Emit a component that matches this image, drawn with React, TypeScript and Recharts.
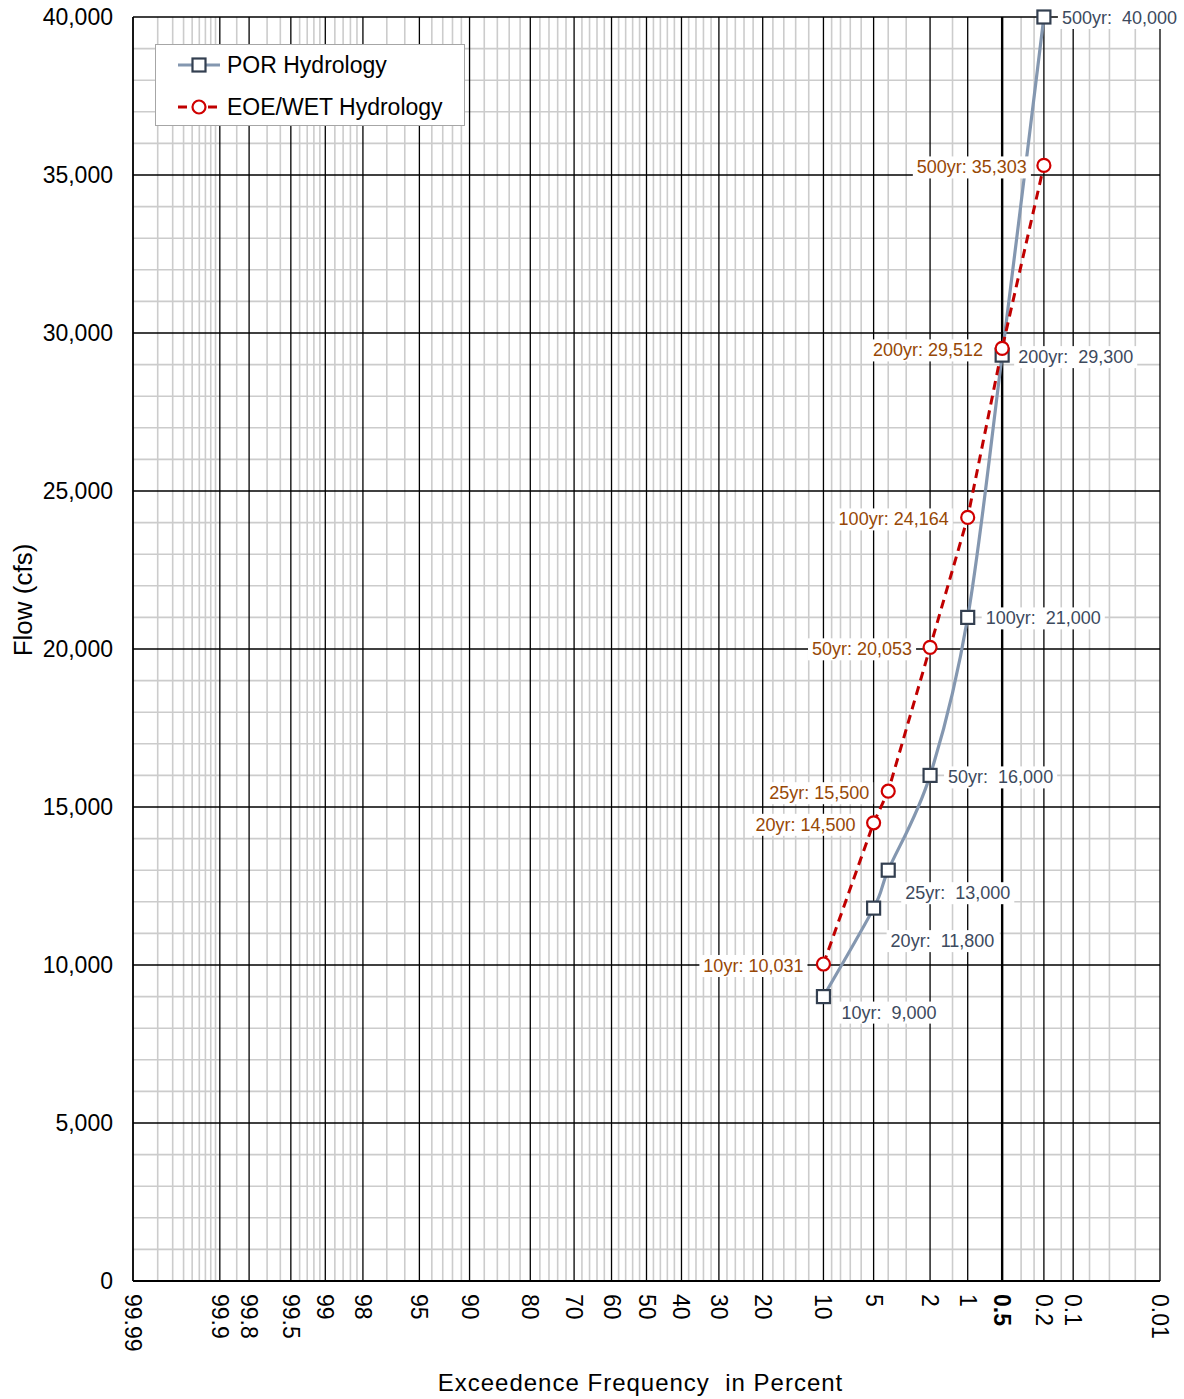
import React from 'react';
import { LineChart, Line, XAxis, YAxis, ReferenceLine, LabelList, Legend } from 'recharts';

// ---------- data ----------
const exceedPct = [10, 5, 4, 2, 1, 0.5, 0.2];
const returnPeriods = ['10yr', '20yr', '25yr', '50yr', '100yr', '200yr', '500yr'];
const porFlow = [9000, 11800, 13000, 16000, 21000, 29300, 40000];
const eoeFlow = [10031, 14500, 15500, 20053, 24164, 29512, 35303];

const majorPct = [99.99, 99.9, 99.8, 99.5, 99, 98, 95, 90, 80, 70, 60, 50, 40, 30, 20, 10, 5, 2, 1, 0.5, 0.2, 0.1, 0.01];
const majorLabels = ['99.99', '99.9', '99.8', '99.5', '99', '98', '95', '90', '80', '70', '60', '50', '40', '30', '20', '10', '5', '2', '1', '0.5', '0.2', '0.1', '0.01'];
const minorPct = [
  99.98, 99.97, 99.96, 99.95, 99.94, 99.93, 99.92, 99.91, 99.85, 99.7, 99.6, 99.4, 99.3, 99.2, 99.1,
  98.8, 98.6, 98.4, 98.2, 97, 96, 94, 93, 92, 91, 88, 86, 84, 82, 78, 76, 74, 72, 68, 66, 64, 62,
  58, 56, 54, 52, 48, 46, 44, 42, 38, 36, 34, 32, 28, 26, 24, 22, 18, 16, 14, 12, 9, 8, 7, 6, 4, 3,
  1.3333, 0.3333, 0.25, 0.1333, 0.0667, 0.04, 0.02,
];
const yTicks = [0, 5000, 10000, 15000, 20000, 25000, 30000, 35000, 40000];
const yMinor = [1000, 2000, 3000, 4000, 6000, 7000, 8000, 9000, 11000, 12000, 13000, 14000, 16000, 17000, 18000, 19000,
  21000, 22000, 23000, 24000, 26000, 27000, 28000, 29000, 31000, 32000, 33000, 34000, 36000, 37000, 38000, 39000];

// ---------- styling config ----------
const FONT = '"Liberation Sans", Arial, sans-serif';
const POR_LINE = '#8497B0';
const POR_MARK = '#333F50';
const POR_TEXT = '#3D4A5E';
const EOE_LINE = '#C00000';
const EOE_MARK = '#D00000';
const EOE_TEXT = '#974806';
const porLabelOffsets = [[18, 16], [17, 33], [17, 23], [18, 2], [18, 1], [16, 2], [18, 1]];
const eoeLabelOffsets = [[-20, 2], [-18, 2], [-19, 2], [-18, 2], [-19, 2], [-19, 2], [-17, 2]];

// ---------- helpers ----------
function normInv(p: number): number {
  const a = [-3.969683028665376e1, 2.209460984245205e2, -2.759285104469687e2, 1.38357751867269e2, -3.066479806614716e1, 2.506628277459239];
  const b = [-5.447609879822406e1, 1.615858368580409e2, -1.556989798598866e2, 6.680131188771972e1, -1.328068155288572e1];
  const c = [-7.784894002430293e-3, -3.223964580411365e-1, -2.400758277161838, -2.549732539343734, 4.374664141464968, 2.938163982698783];
  const d = [7.784695709041462e-3, 3.224671290700398e-1, 2.445134137142996, 3.754408661907416];
  const pl = 0.02425;
  if (p < pl) {
    const q = Math.sqrt(-2 * Math.log(p));
    return (((((c[0] * q + c[1]) * q + c[2]) * q + c[3]) * q + c[4]) * q + c[5]) / ((((d[0] * q + d[1]) * q + d[2]) * q + d[3]) * q + 1);
  }
  if (p <= 1 - pl) {
    const q = p - 0.5;
    const r = q * q;
    return ((((((a[0] * r + a[1]) * r + a[2]) * r + a[3]) * r + a[4]) * r + a[5]) * q) / (((((b[0] * r + b[1]) * r + b[2]) * r + b[3]) * r + b[4]) * r + 1);
  }
  const q = Math.sqrt(-2 * Math.log(1 - p));
  return -(((((c[0] * q + c[1]) * q + c[2]) * q + c[3]) * q + c[4]) * q + c[5]) / ((((d[0] * q + d[1]) * q + d[2]) * q + d[3]) * q + 1);
}
const toZ = (pct: number) => normInv(1 - pct / 100);
const fmt = (v: number) => v.toLocaleString('en-US');

const porData = exceedPct.map((p, i) => ({ z: toZ(p), flow: porFlow[i], text: `${returnPeriods[i]}:  ${fmt(porFlow[i])}` }));
const eoeData = exceedPct.map((p, i) => ({ z: toZ(p), flow: eoeFlow[i], text: `${returnPeriods[i]}: ${fmt(eoeFlow[i])}` }));
const majorZ = majorPct.map(toZ);
const minorZ = minorPct.map(toZ);

// Excel-like smoothed line (Catmull-Rom)
function excelSmooth(context: any) {
  let pts: number[][] = [];
  return {
    areaStart() {},
    areaEnd() {},
    lineStart() { pts = []; },
    lineEnd() {
      if (!pts.length) return;
      context.moveTo(pts[0][0], pts[0][1]);
      for (let i = 0; i < pts.length - 1; i++) {
        const p0 = pts[i - 1] || pts[i];
        const p1 = pts[i];
        const p2 = pts[i + 1];
        const p3 = pts[i + 2] || pts[i + 1];
        context.bezierCurveTo(
          p1[0] + (p2[0] - p0[0]) / 6, p1[1] + (p2[1] - p0[1]) / 6,
          p2[0] - (p3[0] - p1[0]) / 6, p2[1] - (p3[1] - p1[1]) / 6,
          p2[0], p2[1]
        );
      }
    },
    point(x: number, y: number) { pts.push([+x, +y]); },
  };
}

const charW: Record<string, number> = { ' ': 0.278, ':': 0.278, ',': 0.278, y: 0.5, r: 0.333 };
const textWidth = (s: string, size: number) => s.split('').reduce((w, ch) => w + (charW[ch] ?? 0.556), 0) * size;

const makeLabel = (offsets: number[][], color: string, anchorEnd: boolean) => (props: any) => {
  const { x, y, index, value } = props;
  if (x == null || y == null) return null;
  const [dx, dy] = offsets[index] || [0, 0];
  const fs = 18;
  const w = textWidth(String(value), fs);
  const tx = x + dx;
  const ty = y + dy;
  const rx = anchorEnd ? tx - w - 4 : tx - 4;
  return (
    <g>
      <rect x={rx} y={ty - 11} width={w + 8} height={22} fill="#FFFFFF" />
      <text x={tx} y={ty} textAnchor={anchorEnd ? 'end' : 'start'} dominantBaseline="central" fontSize={fs}
        fontFamily={FONT} fill={color} style={{ whiteSpace: 'pre' }}>
        {value}
      </text>
    </g>
  );
};

const SquareDot = (props: any) => {
  const { cx, cy } = props;
  if (cx == null || cy == null) return null;
  return <rect x={cx - 6.5} y={cy - 6.5} width={13} height={13} fill="#FFFFFF" stroke={POR_MARK} strokeWidth={2.2} />;
};
const CircleDot = (props: any) => {
  const { cx, cy } = props;
  if (cx == null || cy == null) return null;
  return <circle cx={cx} cy={cy} r={6.5} fill="#FFFFFF" stroke={EOE_MARK} strokeWidth={2.2} />;
};

const XTick = (props: any) => {
  const { x, y, payload } = props;
  const idx = majorZ.findIndex((z) => Math.abs(z - payload.value) < 1e-6);
  const label = idx >= 0 ? majorLabels[idx] : '';
  return (
    <text x={x} y={y} transform={`rotate(90 ${x} ${y})`} textAnchor="start" dominantBaseline="central"
      fontSize={23} fontFamily={FONT} fill="#000" fontWeight={label === '0.5' ? 'bold' : 'normal'}>
      {label}
    </text>
  );
};

const LegendBox = () => (
  <div style={{ position: 'relative', width: 310, height: 82, boxSizing: 'border-box', border: '1px solid #A6A6A6', background: '#FFFFFF', fontFamily: FONT, fontSize: 23, color: '#000' }}>
    <div style={{ position: 'absolute', left: 21, top: 8, height: 24, display: 'flex', alignItems: 'center', whiteSpace: 'nowrap' }}>
      <svg width={44} height={20} style={{ marginRight: 6 }}>
        <line x1={1} y1={10} x2={43} y2={10} stroke={POR_LINE} strokeWidth={3} />
        <rect x={15.5} y={3.5} width={13} height={13} fill="#FFF" stroke={POR_MARK} strokeWidth={2.2} />
      </svg>
      <span>POR Hydrology</span>
    </div>
    <div style={{ position: 'absolute', left: 21, top: 50, height: 24, display: 'flex', alignItems: 'center', whiteSpace: 'nowrap' }}>
      <svg width={44} height={20} style={{ marginRight: 6 }}>
        <line x1={1} y1={10} x2={43} y2={10} stroke={EOE_LINE} strokeWidth={3} strokeDasharray="9 6" />
        <circle cx={22} cy={10} r={6.5} fill="#FFF" stroke={EOE_MARK} strokeWidth={2.2} />
      </svg>
      <span>EOE/WET Hydrology</span>
    </div>
  </div>
);

export default function App() {
  return (
    <div style={{ position: 'absolute', left: 0, top: 0, width: 1184, height: 1399, background: '#FFFFFF' }}>
      <LineChart width={1184} height={1399} margin={{ top: 17, right: 24, left: 13, bottom: 38 }}>
        <XAxis
          dataKey="z"
          type="number"
          domain={[majorZ[0], majorZ[majorZ.length - 1]]}
          ticks={majorZ}
          interval={0}
          allowDataOverflow
          height={80}
          tickLine={false}
          tickSize={0}
          tickMargin={13}
          tick={<XTick />}
          axisLine={{ stroke: '#000', strokeWidth: 2 }}
          label={(p: any) => {
            const vb = p.viewBox || {};
            return (
              <text x={vb.x + vb.width / 2 - 6} y={vb.y + 101} textAnchor="middle" dominantBaseline="central"
                fontSize={24} letterSpacing={1} fontFamily={FONT} fill="#000" style={{ whiteSpace: 'pre' }}>
                Exceedence Frequency  in Percent
              </text>
            );
          }}
        />
        <YAxis
          type="number"
          domain={[0, 40000]}
          ticks={yTicks}
          interval={0}
          width={120}
          tickLine={false}
          tickSize={0}
          tickMargin={20}
          tickFormatter={fmt}
          tick={{ fontSize: 23, fontFamily: FONT, fill: '#000' }}
          axisLine={{ stroke: '#000', strokeWidth: 1.5 }}
          label={(p: any) => {
            const vb = p.viewBox || {};
            const cx = vb.x + 10;
            const cy = vb.y + vb.height / 2 - 49;
            return (
              <text x={cx} y={cy} transform={`rotate(-90 ${cx} ${cy})`} textAnchor="middle" dominantBaseline="central"
                fontSize={26} fontFamily={FONT} fill="#000">
                Flow (cfs)
              </text>
            );
          }}
        />
        {minorZ.map((z) => (
          <ReferenceLine key={`mx${z}`} x={z} stroke="#CCCCCC" strokeWidth={1.6} zIndex={-90} />
        ))}
        {yMinor.map((v) => (
          <ReferenceLine key={`my${v}`} y={v} stroke="#CCCCCC" strokeWidth={1.6} zIndex={-90} />
        ))}
        {majorZ.map((z, i) => (
          <ReferenceLine key={`Mx${z}`} x={z} stroke="#000" strokeWidth={majorLabels[i] === '0.5' ? 2.4 : 1.3} zIndex={-80} />
        ))}
        {yTicks.filter((v) => v > 0).map((v) => (
          <ReferenceLine key={`My${v}`} y={v} stroke="#000" strokeWidth={1.3} zIndex={-80} />
        ))}
        <Legend layout="horizontal" verticalAlign="middle" align="center"
          wrapperStyle={{ left: 155, top: 44, width: 310, height: 82 }} content={() => <LegendBox />} />
        <Line
          data={porData}
          dataKey="flow"
          name="POR Hydrology"
          type={excelSmooth as any}
          stroke={POR_LINE}
          strokeWidth={3.2}
          dot={<SquareDot />}
          activeDot={false}
          isAnimationActive={false}
        >
          <LabelList dataKey="text" content={makeLabel(porLabelOffsets, POR_TEXT, false)} />
        </Line>
        <Line
          data={eoeData}
          dataKey="flow"
          name="EOE/WET Hydrology"
          type="linear"
          stroke={EOE_LINE}
          strokeWidth={3}
          strokeDasharray="9 6"
          dot={<CircleDot />}
          activeDot={false}
          isAnimationActive={false}
        >
          <LabelList dataKey="text" content={makeLabel(eoeLabelOffsets, EOE_TEXT, true)} />
        </Line>
      </LineChart>
    </div>
  );
}
